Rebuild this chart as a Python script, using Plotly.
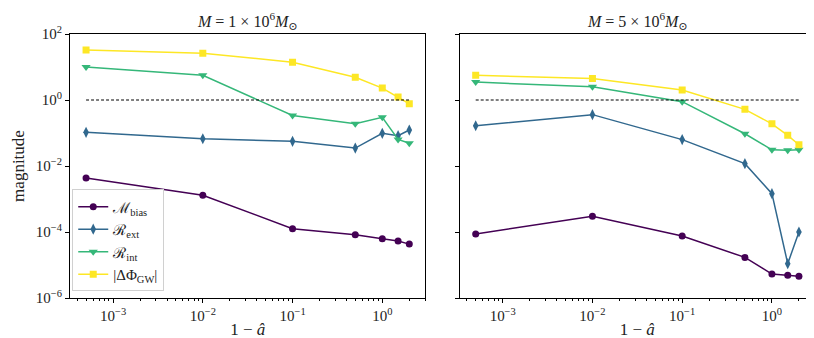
import plotly.graph_objects as go
from plotly.subplots import make_subplots

# 1 - a_hat
spin_gap = [5e-4, 1e-2, 1e-1, 0.5, 1.0, 1.5, 2.0]

# M = 1e6 Msun
m1_bias = [4.3e-3, 1.3e-3, 1.26e-4, 8.3e-5, 6.2e-5, 5.3e-5, 4.3e-5]
m1_ext = [0.105, 0.067, 0.056, 0.035, 0.098, 0.083, 0.123]
m1_int = [10.0, 5.6, 0.34, 0.19, 0.30, 0.064, 0.049]
m1_phase = [33.0, 26.0, 14.0, 4.9, 2.3, 1.23, 0.77]

# M = 5e6 Msun
m5_bias = [8.7e-5, 3.0e-4, 7.6e-5, 1.7e-5, 5.3e-6, 4.9e-6, 4.6e-6]
m5_ext = [0.166, 0.36, 0.063, 0.0118, 0.00145, 1.1e-5, 1.0e-4]
m5_int = [3.5, 2.5, 0.89, 0.095, 0.031, 0.030, 0.031]
m5_phase = [5.6, 4.5, 2.0, 0.52, 0.19, 0.085, 0.044]

x_tickvals = [1e-3, 1e-2, 1e-1, 1]
x_ticktext = ["10<sup>−3</sup>", "10<sup>−2</sup>", "10<sup>−1</sup>", "10<sup>0</sup>"]
y_tickvals = [1e-6, 1e-4, 1e-2, 1, 1e2]
y_ticktext = ["10<sup>−6</sup>", "10<sup>−4</sup>", "10<sup>−2</sup>", "10<sup>0</sup>", "10<sup>2</sup>"]

titles = ["<i>M</i> = 1 × 10<sup>6</sup><i>M</i><sub>⊙</sub>",
          "<i>M</i> = 5 × 10<sup>6</sup><i>M</i><sub>⊙</sub>"]

series_names = ["ℳ<sub>bias</sub>", "ℛ<sub>ext</sub>", "ℛ<sub>int</sub>", "|ΔΦ<sub>GW</sub>|"]
colors = ["#440154", "#31688e", "#35b779", "#fde725"]
symbols = ["circle", "diamond-tall", "triangle-down", "square"]
sizes = [7, 8, 8, 7]

font = "Liberation Serif, DejaVu Serif, serif"

fig = make_subplots(rows=1, cols=2, shared_yaxes=True, horizontal_spacing=0.046)

panels = [(m1_bias, m1_ext, m1_int, m1_phase), (m5_bias, m5_ext, m5_int, m5_phase)]
for col, panel in enumerate(panels, start=1):
    for i, vals in enumerate(panel):
        fig.add_trace(go.Scatter(
            x=spin_gap, y=vals, mode="lines+markers", name=series_names[i],
            line=dict(color=colors[i], width=1.5),
            marker=dict(symbol=symbols[i], size=sizes[i], color=colors[i]),
            showlegend=(col == 1),
        ), row=1, col=col)
    # reference line at magnitude = 1
    fig.add_trace(go.Scatter(
        x=[spin_gap[0], spin_gap[-1]], y=[1, 1], mode="lines",
        line=dict(color="black", width=1.1, dash="3px,2px"), showlegend=False,
    ), row=1, col=col)

axis_common = dict(
    type="log", showline=True, linecolor="black", linewidth=1, mirror=True,
    ticks="outside", ticklen=4, tickcolor="black", showgrid=False, zeroline=False,
    tickfont=dict(family=font, size=15, color="#222"),
)

for col in (1, 2):
    fig.update_xaxes(
        **axis_common, range=[-3.48, 0.48],
        tickmode="array", tickvals=x_tickvals, ticktext=x_ticktext,
        minor=dict(ticks="outside", ticklen=2, tickcolor="black", showgrid=False, dtick="D1"),
        title=dict(text="1 − <i>â</i>", font=dict(family=font, size=17, color="#222"), standoff=0),
        row=1, col=col,
    )
    fig.update_yaxes(**axis_common, range=[-6, 2], tickmode="array",
                     tickvals=y_tickvals, ticktext=y_ticktext, row=1, col=col)

fig.update_yaxes(title=dict(text="magnitude", font=dict(family=font, size=17, color="#222"), standoff=6),
                 row=1, col=1)
fig.update_yaxes(showticklabels=False, row=1, col=2)

for i, t in enumerate(titles):
    fig.add_annotation(text=t, xref=f"x{'' if i == 0 else 2} domain", yref="paper",
                       x=0.5, y=1.0, yanchor="bottom", showarrow=False,
                       font=dict(family=font, size=16, color="#222"), yshift=0)

fig.update_layout(
    width=814, height=338,
    margin=dict(l=62, r=7, t=26, b=48),
    plot_bgcolor="white", paper_bgcolor="white",
    font=dict(family=font, color="#222"),
    legend=dict(x=0.003, y=0.025, xanchor="left", yanchor="bottom",
                bgcolor="rgba(255,255,255,0.9)", bordercolor="#d0d0d0", borderwidth=1,
                font=dict(family=font, size=15), tracegroupgap=0, itemwidth=30),
)

fig.write_html("out.html")
